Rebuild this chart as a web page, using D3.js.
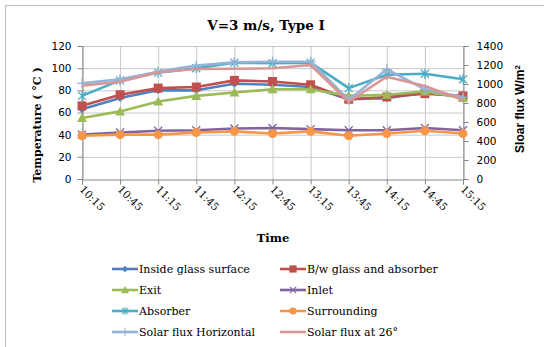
<!DOCTYPE html>
<html><head><meta charset="utf-8">
<script src="https://cdn.jsdelivr.net/npm/d3@7"></script>
<style>body{margin:0;background:#fff}svg{display:block}</style>
</head><body><svg id="c" width="544" height="347"></svg>
<script>
const times = ["10:15","10:45","11:15","11:45","12:15","12:45","13:15","13:45","14:15","14:45","15:15"];
const insideGlass = [63, 73, 80, 80, 86, 85, 83, 72, 73, 78, 74];
const bwGlass     = [66, 76, 82, 83, 89, 88, 85, 72, 74, 77, 75];
const exitT       = [55, 61, 70, 75, 78, 81, 81, 75, 76, 79, 73];
const inlet       = [40, 42, 43.5, 44, 45.5, 46, 45, 44, 44, 46, 44];
const absorber    = [75, 89, 96, 100, 105, 104.5, 105, 82, 94, 95, 90];
const surrounding = [39, 40, 40, 42, 43, 41, 43, 39, 41, 43.5, 41];
const solarH      = [1007, 1050, 1130, 1195, 1228, 1235, 1235, 832, 1155, 944, 860];
const solar26     = [982, 1024, 1123, 1158, 1160, 1165, 1200, 813, 1077, 979, 832];
const leftTicks = [0,20,40,60,80,100,120];
const rightTicks = [0,200,400,600,800,1000,1200,1400];

const series = [
  {name:"Inside glass surface", data:insideGlass, color:"#4F81BD", marker:"diamond", axis:"L"},
  {name:"B/w glass and absorber", data:bwGlass, color:"#C0504D", marker:"square", axis:"L"},
  {name:"Exit", data:exitT, color:"#9BBB59", marker:"triangle", axis:"L"},
  {name:"Inlet", data:inlet, color:"#8064A2", marker:"x", axis:"L"},
  {name:"Absorber", data:absorber, color:"#4BACC6", marker:"star", axis:"L"},
  {name:"Surrounding", data:surrounding, color:"#F79646", marker:"circle", axis:"L"},
  {name:"Solar flux Horizontal", data:solarH, color:"#95B3D7", marker:"plus", axis:"R"},
  {name:"Solar flux at 26°", data:solar26, color:"#D99694", marker:"none", axis:"R"}
];

const svg = d3.select("#c");
const L = 82, R = 463, T = 46, B = 179;
const x = d3.scalePoint().domain(times).range([L, R]);
const yL = d3.scaleLinear().domain([0,120]).range([B, T]);
const yR = d3.scaleLinear().domain([0,1400]).range([B, T]);

// outer border
svg.append("rect").attr("x",5.5).attr("y",5.5).attr("width",560).attr("height",360)
  .attr("fill","none").attr("stroke","#BFBFBF");

// title
svg.append("text").attr("x",266).attr("y",30).attr("text-anchor","middle")
  .attr("font-family","DejaVu Serif").attr("font-weight","bold").attr("font-size",13.5)
  .text("V=3 m/s, Type I");

// gridlines
const g = svg.append("g");
g.selectAll(".hg").data(leftTicks.filter(d=>d>0)).join("line")
  .attr("x1",L).attr("x2",R).attr("y1",d=>yL(d)+0.5).attr("y2",d=>yL(d)+0.5)
  .attr("stroke","#C8C8C8");
g.selectAll(".vg").data(times).join("line")
  .attr("x1",d=>x(d)+0.5).attr("x2",d=>x(d)+0.5).attr("y1",T).attr("y2",B)
  .attr("stroke","#C8C8C8");

// axes
const axL = d3.axisLeft(yL).tickValues(leftTicks).tickSize(5).tickPadding(6).tickFormat(d3.format("d"));
const axR = d3.axisRight(yR).tickValues(rightTicks).tickSize(5).tickPadding(8).tickFormat(d3.format("d"));
const axB = d3.axisBottom(x).tickSize(5).tickFormat("");
function styleAxis(sel){
  sel.select(".domain").attr("stroke","#868686");
  sel.selectAll(".tick line").attr("stroke","#868686");
  sel.selectAll(".tick text").attr("font-family","DejaVu Sans").attr("font-size",10.5).attr("fill","#000");
}
svg.append("g").attr("transform",`translate(${L+0.5},0)`).call(axL).call(styleAxis);
svg.append("g").attr("transform",`translate(${R+0.5},0)`).call(axR).call(styleAxis);
svg.append("g").attr("transform",`translate(0,${B+0.5})`).call(axB).call(styleAxis);

// rotated x labels
svg.append("g").selectAll("text").data(times).join("text")
  .attr("transform",d=>`translate(${x(d)-3},${B+11}) rotate(45)`)
  .attr("font-family","DejaVu Serif").attr("font-size",10.5).attr("fill","#000")
  .text(d=>d);

// axis titles
svg.append("text").attr("x",273).attr("y",242).attr("text-anchor","middle")
  .attr("font-family","DejaVu Serif").attr("font-weight","bold").attr("font-size",11.5).text("Time");
svg.append("text").attr("transform","translate(41,125) rotate(-90)").attr("text-anchor","middle")
  .attr("font-family","DejaVu Serif").attr("font-weight","bold").attr("font-size",11)
  .text("Temperature ( °C )");
const rt = svg.append("text").attr("transform","translate(524,109) rotate(-90)").attr("text-anchor","middle")
  .attr("font-family","Liberation Sans Narrow, Liberation Sans").attr("font-weight","bold").attr("font-size",12);
rt.append("tspan").text("Sloar flux W/m");
rt.append("tspan").attr("dy",-4).attr("font-size",8).text("2");

// marker drawing
function drawMarker(sel, type, color){
  const s = sel;
  if(type==="diamond") s.append("path").attr("d","M0,-4L4,0L0,4L-4,0Z").attr("fill",color);
  else if(type==="square") s.append("rect").attr("x",-4.5).attr("y",-4.5).attr("width",9).attr("height",9).attr("fill",color);
  else if(type==="triangle") s.append("path").attr("d","M0,-5L5,4L-5,4Z").attr("fill",color);
  else if(type==="circle") s.append("circle").attr("r",4.5).attr("fill",color);
  else if(type==="x") s.append("path").attr("d","M-4,-4L4,4M-4,4L4,-4").attr("stroke",color).attr("stroke-width",1.3);
  else if(type==="star") s.append("path").attr("d","M-4,-4L4,4M-4,4L4,-4M0,-5L0,5").attr("stroke",color).attr("stroke-width",1.3);
  else if(type==="plus") s.append("path").attr("d","M-5,0L5,0M0,-5L0,5").attr("stroke",color).attr("stroke-width",1.3);
}

// series
series.forEach(s=>{
  const y = s.axis==="L" ? yL : yR;
  const line = d3.line().x((d,i)=>x(times[i])).y(d=>y(d));
  svg.append("path").datum(s.data).attr("d",line).attr("fill","none")
    .attr("stroke",s.color).attr("stroke-width",2.6).attr("stroke-linejoin","round");
  if(s.marker!=="none"){
    svg.append("g").selectAll("g").data(s.data).join("g")
      .attr("transform",(d,i)=>`translate(${x(times[i])},${y(d)})`)
      .each(function(){ drawMarker(d3.select(this), s.marker, s.color); });
  }
});

// legend
const legX = [112, 280], legY = [269, 290, 311, 332];
series.forEach((s,i)=>{
  const lx = legX[i%2], ly = legY[Math.floor(i/2)];
  const lg = svg.append("g").attr("transform",`translate(${lx},${ly})`);
  lg.append("line").attr("x1",0).attr("x2",26).attr("y1",0).attr("y2",0)
    .attr("stroke",s.color).attr("stroke-width",2.6);
  if(s.marker!=="none"){
    const m = lg.append("g").attr("transform","translate(13,0) scale(0.8)");
    drawMarker(m, s.marker, s.color);
  }
  lg.append("text").attr("x",27).attr("y",4).attr("font-family","DejaVu Serif")
    .attr("font-size",11).attr("fill","#000").text(s.name);
});
</script></body></html>
